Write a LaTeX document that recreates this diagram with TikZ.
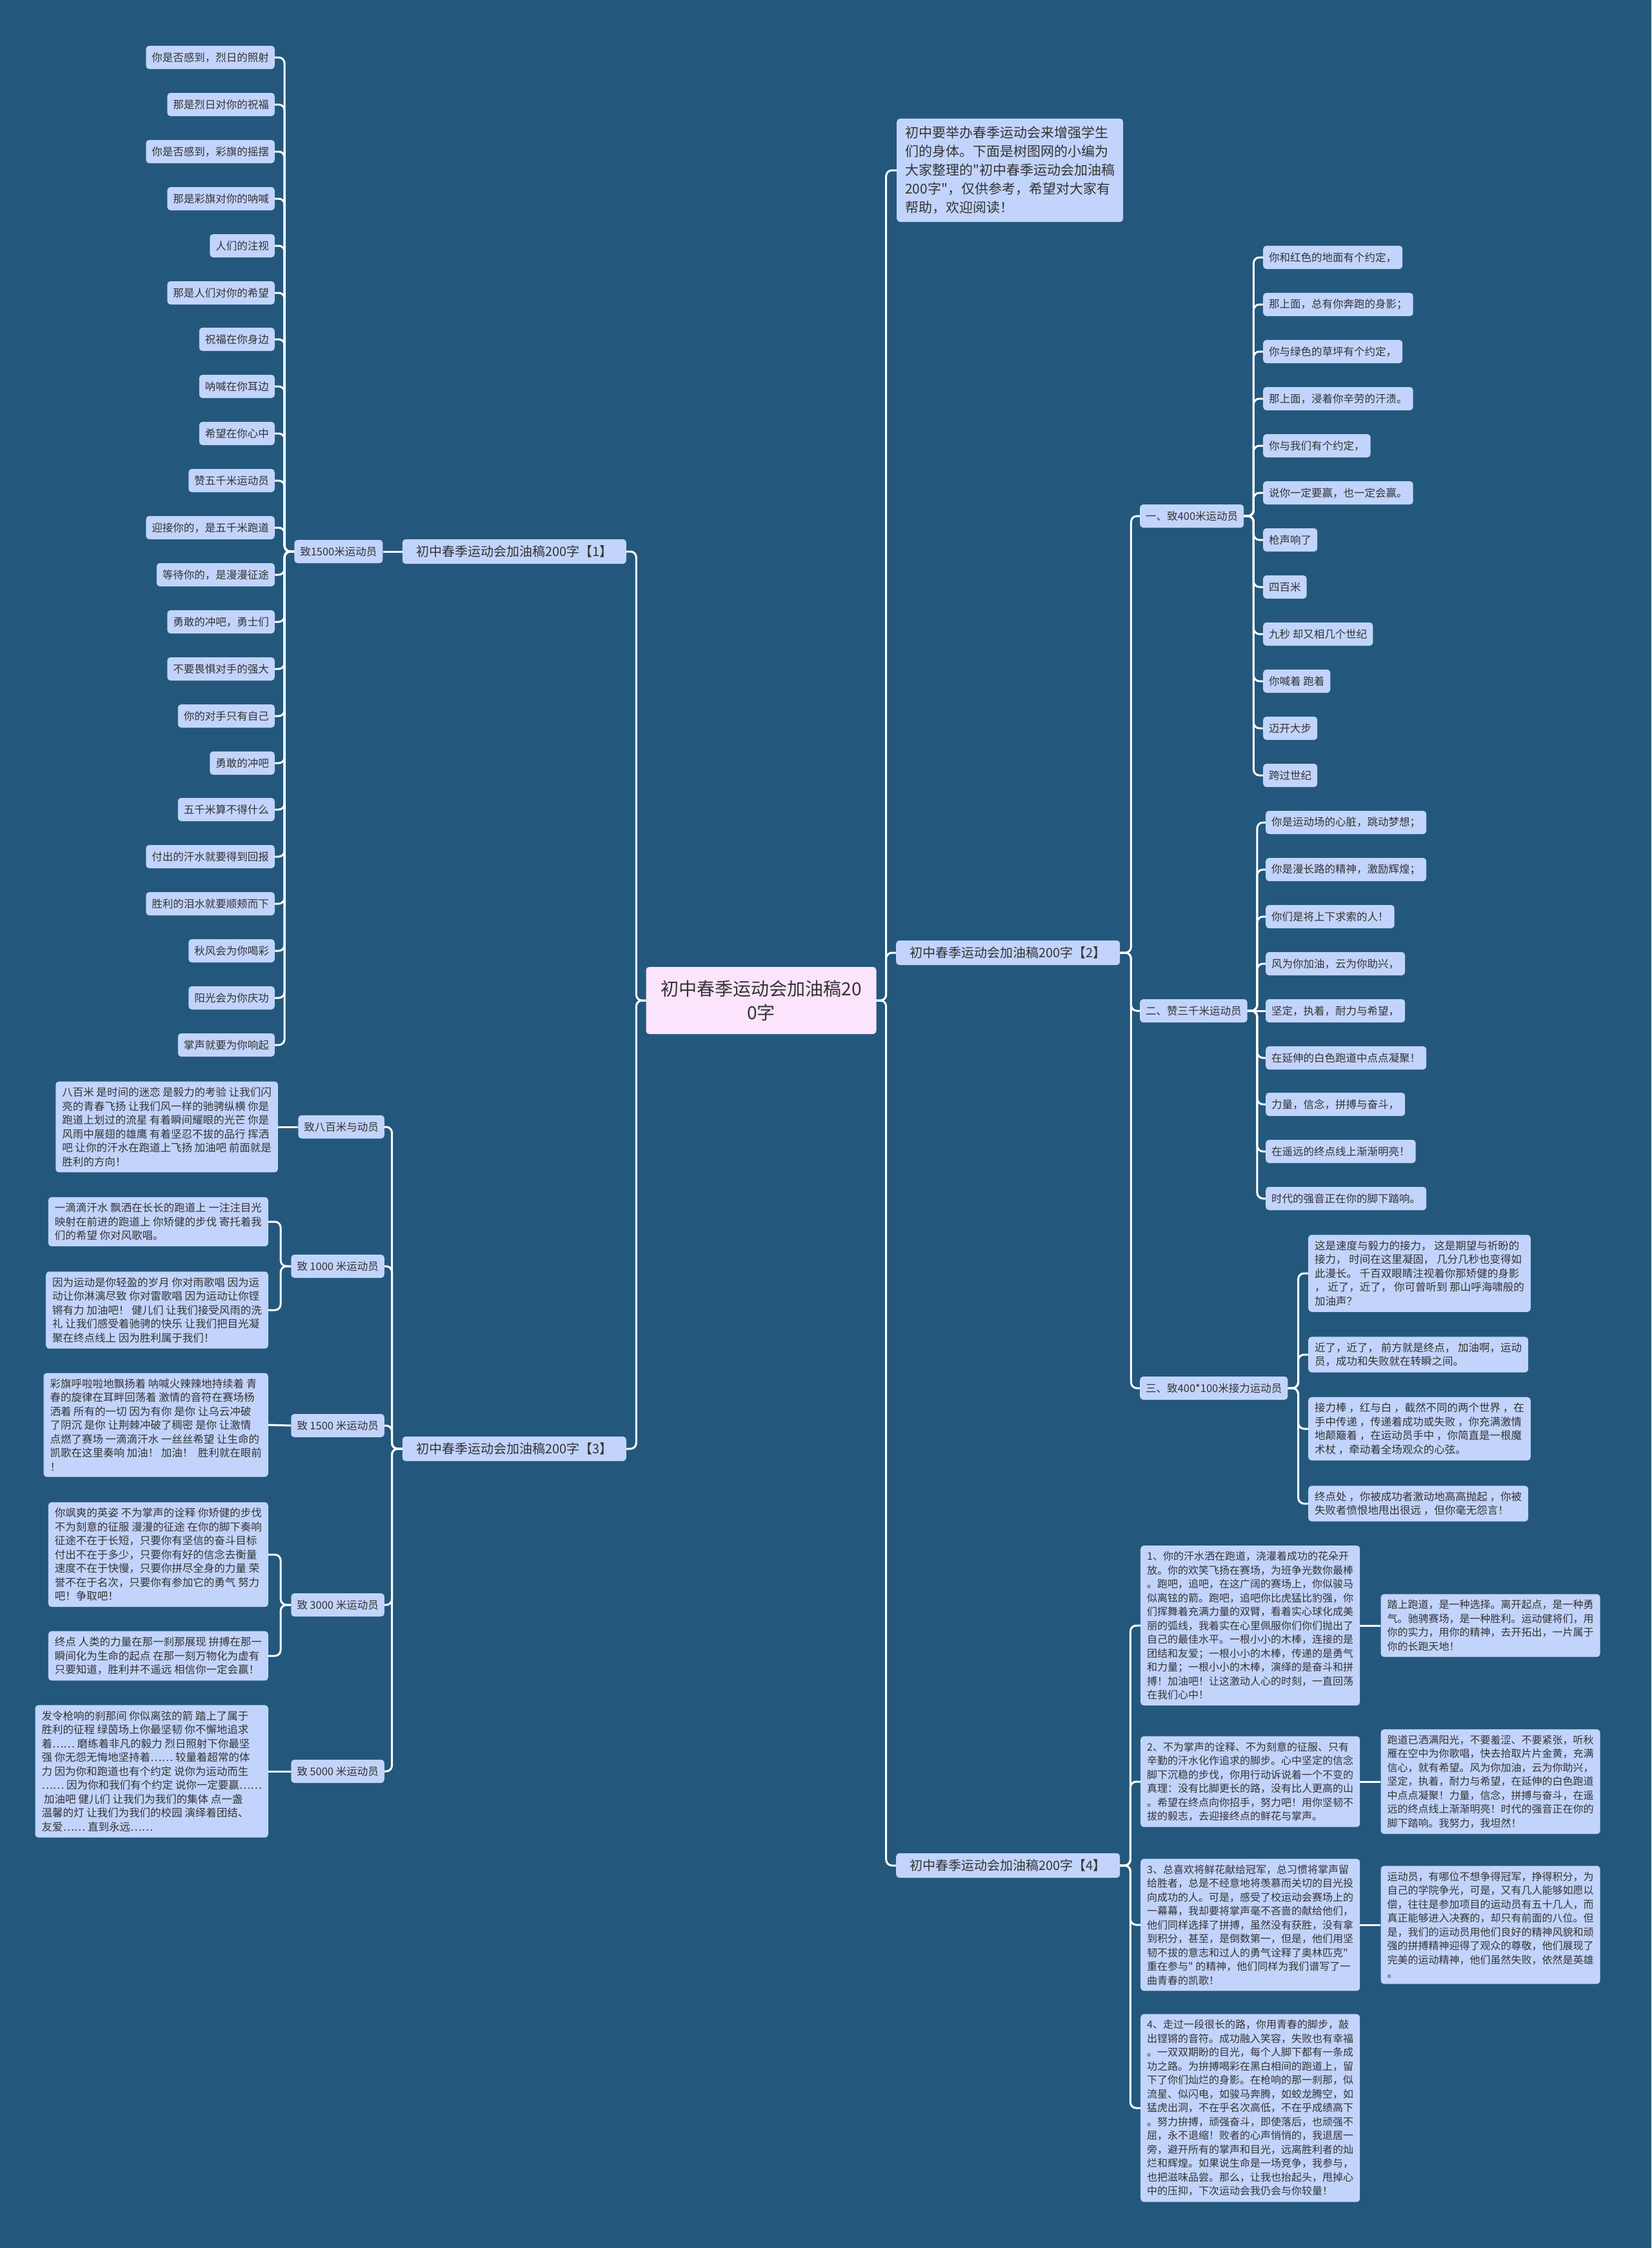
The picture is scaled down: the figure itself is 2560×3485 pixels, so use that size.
\documentclass[tikz,border=0pt]{standalone}
\usepackage{fontspec}
\setmainfont{Noto Sans CJK SC}[Ligatures=TeXOff]
\usetikzlibrary{positioning}
\definecolor{bgblue}{RGB}{35,88,124}
\definecolor{boxblue}{RGB}{194,212,251}
\definecolor{rootpink}{RGB}{253,228,253}
\definecolor{ink}{RGB}{51,51,51}

\begin{document}
\begin{tikzpicture}[
        x=1pt, y=-1pt,
        every node/.style={text=ink, fill=boxblue, rounded corners=5pt},
        leaf/.style={font=\fontsize{16.5}{21.5}\selectfont, inner xsep=9pt, inner ysep=0pt, minimum height=36pt},
        para/.style={font=\fontsize{16.5}{21.5}\selectfont, align=left, inner xsep=10pt, inner ysep=9pt},
        tight/.style={para, font=\fontsize{16}{21.5}\selectfont},
        part/.style={font=\fontsize{20}{24}\selectfont, minimum width=347pt, minimum height=38pt, inner ysep=0pt},
        link/.style={draw=white, line width=3pt, rounded corners=9pt}
    ]
    \useasboundingbox (0,0) rectangle (2560,3485);
    \fill[bgblue] (0,0) rectangle (2560,3485);

    \node[fill=rootpink, font=\fontsize{28}{37}\selectfont, align=center, minimum width=357pt, minimum height=104pt] (root) at (1180,1551) {初中春季运动会加油稿20\\0字};

    \node[part, anchor=east] (part1) at (971,855) {初中春季运动会加油稿200字【1】};
    \node[part, anchor=east] (part3) at (971,2246) {初中春季运动会加油稿200字【3】};
    \node[part, anchor=west] (part2) at (1389,1477) {初中春季运动会加油稿200字【2】};
    \node[part, anchor=west] (part4) at (1389,2892) {初中春季运动会加油稿200字【4】};
    \node[para, anchor=west, font=\fontsize{21}{29}\selectfont, inner xsep=12pt, inner ysep=12pt, minimum width=351pt] (intro) at (1390,264) {初中要举办春季运动会来增强学生\\们的身体。下面是树图网的小编为\\大家整理的"初中春季运动会加油稿\\200字"，仅供参考，希望对大家有\\帮助，欢迎阅读！};

    \node[leaf, left=30pt of part1] (run1500) {致1500米运动员};
    \node[leaf, anchor=east] (l1) at (426,89) {你是否感到，烈日的照射};
    \node[leaf, anchor=east] (l2) at (426,162) {那是烈日对你的祝福};
    \node[leaf, anchor=east] (l3) at (426,235) {你是否感到，彩旗的摇摆};
    \node[leaf, anchor=east] (l4) at (426,308) {那是彩旗对你的呐喊};
    \node[leaf, anchor=east] (l5) at (426,381) {人们的注视};
    \node[leaf, anchor=east] (l6) at (426,454) {那是人们对你的希望};
    \node[leaf, anchor=east] (l7) at (426,526) {祝福在你身边};
    \node[leaf, anchor=east] (l8) at (426,599) {呐喊在你耳边};
    \node[leaf, anchor=east] (l9) at (426,672) {希望在你心中};
    \node[leaf, anchor=east] (l10) at (426,745) {赞五千米运动员};
    \node[leaf, anchor=east] (l11) at (426,818) {迎接你的，是五千米跑道};
    \node[leaf, anchor=east] (l12) at (426,891) {等待你的，是漫漫征途};
    \node[leaf, anchor=east] (l13) at (426,964) {勇敢的冲吧，勇士们};
    \node[leaf, anchor=east] (l14) at (426,1037) {不要畏惧对手的强大};
    \node[leaf, anchor=east] (l15) at (426,1110) {你的对手只有自己};
    \node[leaf, anchor=east] (l16) at (426,1183) {勇敢的冲吧};
    \node[leaf, anchor=east] (l17) at (426,1255) {五千米算不得什么};
    \node[leaf, anchor=east] (l18) at (426,1328) {付出的汗水就要得到回报};
    \node[leaf, anchor=east] (l19) at (426,1401) {胜利的泪水就要顺颊而下};
    \node[leaf, anchor=east] (l20) at (426,1474) {秋风会为你喝彩};
    \node[leaf, anchor=east] (l21) at (426,1547) {阳光会为你庆功};
    \node[leaf, anchor=east] (l22) at (426,1620) {掌声就要为你响起};

    \node[leaf, anchor=east] (a800) at (596,1747) {致八百米与动员};
    \node[leaf, anchor=east] (a1000) at (596,1963) {致 1000 米运动员};
    \node[leaf, anchor=east] (a1500) at (596,2210) {致 1500 米运动员};
    \node[leaf, anchor=east] (a3000) at (596,2488) {致 3000 米运动员};
    \node[leaf, anchor=east] (a5000) at (596,2746) {致 5000 米运动员};

    \node[para, left=31pt of a800] (p800) {八百米 是时间的迷恋 是毅力的考验 让我们闪\\亮的青春飞扬 让我们风一样的驰骋纵横 你是\\跑道上划过的流星 有着瞬间耀眼的光芒 你是\\风雨中展翅的雄鹰 有着坚忍不拔的品行 挥洒\\吧 让你的汗水在跑道上飞扬 加油吧 前面就是\\胜利的方向！};
    \node[para, anchor=east] (p1000a) at (416,1894) {一滴滴汗水 飘洒在长长的跑道上 一注注目光\\映射在前进的跑道上 你矫健的步伐 寄托着我\\们的希望 你对风歌唱。};
    \node[para, anchor=east] (p1000b) at (416,2031) {因为运动是你轻盈的岁月 你对雨歌唱 因为运\\动让你淋漓尽致 你对雷歌唱 因为运动让你铿\\锵有力 加油吧！ 健儿们 让我们接受风雨的洗\\礼 让我们感受着驰骋的快乐 让我们把目光凝\\聚在终点线上 因为胜利属于我们！};
    \node[para, anchor=east] (p1500) at (416,2209) {彩旗呼啦啦地飘扬着 呐喊火辣辣地持续着 青\\春的旋律在耳畔回荡着 激情的音符在赛场杨\\洒着 所有的一切 因为有你 是你 让乌云冲破\\了阴沉 是你 让荆棘冲破了稠密 是你 让激情\\点燃了赛场 一滴滴汗水 一丝丝希望 让生命的\\凯歌在这里奏响 加油！ 加油！ \ 胜利就在眼前\\！};
    \node[para, anchor=east] (p3000a) at (416,2410) {你飒爽的英姿 不为掌声的诠释 你矫健的步伐\\不为刻意的征服 漫漫的征途 在你的脚下奏响\\征途不在于长短，只要你有坚信的奋斗目标\\付出不在于多少，只要你有好的信念去衡量\\速度不在于快慢，只要你拼尽全身的力量 荣\\誉不在于名次，只要你有参加它的勇气 努力\\吧！争取吧！};
    \node[para, anchor=east] (p3000b) at (416,2567) {终点 人类的力量在那一刹那展现 拚搏在那一\\瞬间化为生命的起点 在那一刻万物化为虚有\\只要知道，胜利并不遥远 相信你一定会赢！};
    \node[para, anchor=east] (p5000) at (416,2746) {发令枪响的刹那间 你似离弦的箭 踏上了属于\\胜利的征程 绿茵场上你最坚韧 你不懈地追求\\着…… 磨练着非凡的毅力 烈日照射下你最坚\\强 你无怨无悔地坚持着…… 较量着超常的体\\力 因为你和跑道也有个约定 说你为运动而生\\…… 因为你和我们有个约定 说你一定要赢……\\\ 加油吧 健儿们 让我们为我们的集体 点一盏\\温馨的灯 让我们为我们的校园 演绎着团结、\\友爱…… 直到永远……};

    \node[leaf, anchor=west] (r400) at (1767,800) {一、致400米运动员};
    \node[leaf, anchor=west] (r3000) at (1767,1567) {二、赞三千米运动员};
    \node[leaf, anchor=west] (relay) at (1767,2152) {三、致400*100米接力运动员};

    \node[leaf, anchor=west] (m1) at (1958,399) {你和红色的地面有个约定，};
    \node[leaf, anchor=west] (m2) at (1958,472) {那上面，总有你奔跑的身影；};
    \node[leaf, anchor=west] (m3) at (1958,545) {你与绿色的草坪有个约定，};
    \node[leaf, anchor=west] (m4) at (1958,618) {那上面，浸着你辛劳的汗渍。};
    \node[leaf, anchor=west] (m5) at (1958,691) {你与我们有个约定，};
    \node[leaf, anchor=west] (m6) at (1958,764) {说你一定要赢，也一定会赢。};
    \node[leaf, anchor=west] (m7) at (1958,837) {枪声响了};
    \node[leaf, anchor=west] (m8) at (1958,910) {四百米};
    \node[leaf, anchor=west] (m9) at (1958,983) {九秒 却又相几个世纪};
    \node[leaf, anchor=west] (m10) at (1958,1056) {你喊着 跑着};
    \node[leaf, anchor=west] (m11) at (1958,1129) {迈开大步};
    \node[leaf, anchor=west] (m12) at (1958,1202) {跨过世纪};

    \node[leaf, anchor=west] (k1) at (1962,1275) {你是运动场的心脏，跳动梦想；};
    \node[leaf, anchor=west] (k2) at (1962,1348) {你是漫长路的精神，激励辉煌；};
    \node[leaf, anchor=west] (k3) at (1962,1421) {你们是将上下求索的人！};
    \node[leaf, anchor=west] (k4) at (1962,1494) {风为你加油，云为你助兴，};
    \node[leaf, anchor=west] (k5) at (1962,1567) {坚定，执着，耐力与希望，};
    \node[leaf, anchor=west] (k6) at (1962,1640) {在延伸的白色跑道中点点凝聚！};
    \node[leaf, anchor=west] (k7) at (1962,1712) {力量，信念，拼搏与奋斗，};
    \node[leaf, anchor=west] (k8) at (1962,1785) {在遥远的终点线上渐渐明亮！};
    \node[leaf, anchor=west] (k9) at (1962,1858) {时代的强音正在你的脚下踏响。};

    \node[para, anchor=west] (j1) at (2028,1974) {这是速度与毅力的接力， 这是期望与祈盼的\\接力， 时间在这里凝固， 几分几秒也变得如\\此漫长。 千百双眼睛注视着你那矫健的身影\\， 近了，近了， 你可曾听到 那山呼海啸般的\\加油声？};
    \node[para, anchor=west] (j2) at (2028,2100) {近了，近了， 前方就是终点， 加油啊，运动\\员，成功和失败就在转瞬之间。};
    \node[para, anchor=west] (j3) at (2028,2215) {接力棒 ，红与白 ，截然不同的两个世界 ，在\\手中传递 ，传递着成功或失败 ，你充满激情\\地颠簸着 ，在运动员手中 ，你简直是一根魔\\术杖 ，牵动着全场观众的心弦。};
    \node[para, anchor=west] (j4) at (2028,2331) {终点处 ，你被成功者激动地高高抛起 ，你被\\失败者愤恨地甩出很远 ，但你毫无怨言！};

    \node[tight, anchor=west] (f1) at (1768,2520) {1、你的汗水洒在跑道，浇灌着成功的花朵开\\放。你的欢笑飞扬在赛场，为班争光数你最棒\\。跑吧，追吧，在这广阔的赛场上，你似骏马\\似离铉的箭。跑吧，追吧你比虎猛比豹强，你\\们挥舞着充满力量的双臂，看着实心球化成美\\丽的弧线，我着实在心里佩服你们你们抛出了\\自己的最佳水平。一根小小的木棒，连接的是\\团结和友爱；一根小小的木棒，传递的是勇气\\和力量；一根小小的木棒，演绎的是奋斗和拼\\搏！加油吧！让这激动人心的时刻，一直回荡\\在我们心中！};
    \node[tight, right=32pt of f1] (g1) {踏上跑道，是一种选择。离开起点，是一种勇\\气。驰骋赛场，是一种胜利。运动健将们，用\\你的实力，用你的精神，去开拓出，一片属于\\你的长跑天地！};
    \node[tight, anchor=west] (f2) at (1768,2762) {2、不为掌声的诠释、不为刻意的征服、只有\\辛勤的汗水化作追求的脚步。心中坚定的信念\\脚下沉稳的步伐，你用行动诉说着一个不变的\\真理：没有比脚更长的路，没有比人更高的山\\。希望在终点向你招手，努力吧！用你坚韧不\\拔的毅志，去迎接终点的鲜花与掌声。};
    \node[tight, right=32pt of f2] (g2) {跑道已洒满阳光，不要羞涩、不要紧张，听秋\\雁在空中为你歌唱，快去拾取片片金黄，充满\\信心，就有希望。风为你加油，云为你助兴，\\坚定，执着，耐力与希望，在延伸的白色跑道\\中点点凝聚！力量，信念，拼搏与奋斗，在遥\\远的终点线上渐渐明亮！时代的强音正在你的\\脚下踏响。我努力，我坦然！};
    \node[tight, anchor=west] (f3) at (1768,2984) {3、总喜欢将鲜花献给冠军，总习惯将掌声留\\给胜者，总是不经意地将羡慕而关切的目光投\\向成功的人。可是，感受了校运动会赛场上的\\一幕幕，我却要将掌声毫不吝啬的献给他们，\\他们同样选择了拼搏，虽然没有获胜，没有拿\\到积分，甚至，是倒数第一，但是，他们用坚\\韧不拔的意志和过人的勇气诠释了奥林匹克"\\重在参与" 的精神，他们同样为我们谱写了一\\曲青春的凯歌！};
    \node[tight, right=32pt of f3] (g3) {运动员，有哪位不想争得冠军，挣得积分，为\\自己的学院争光，可是，又有几人能够如愿以\\偿，往往是参加项目的运动员有五十几人，而\\真正能够进入决赛的，却只有前面的八位。但\\是，我们的运动员用他们良好的精神风貌和顽\\强的拼搏精神迎得了观众的尊敬，他们展现了\\完美的运动精神，他们虽然失败，依然是英雄\\。};
    \node[tight, anchor=west] (f4) at (1768,3268) {4、走过一段很长的路，你用青春的脚步，敲\\出铿锵的音符。成功融入笑容，失败也有幸福\\。一双双期盼的目光，每个人脚下都有一条成\\功之路。为拚搏喝彩在黑白相间的跑道上，留\\下了你们灿烂的身影。在枪响的那一刹那，似\\流星、似闪电，如骏马奔腾，如蛟龙腾空，如\\猛虎出洞，不在乎名次高低，不在乎成绩高下\\。努力拚搏，顽强奋斗，即使落后，也顽强不\\屈，永不退缩！败者的心声悄悄的，我退居一\\旁，避开所有的掌声和目光，远离胜利者的灿\\烂和辉煌。如果说生命是一场竞争，我参与，\\也把滋味品尝。那么，让我也抬起头，甩掉心\\中的压抑，下次运动会我仍会与你较量！};

    \draw[link] (root.west) -- ++(-15,0) |- (part1.east);
    \draw[link] (root.west) -- ++(-15,0) |- (part3.east);
    \draw[link] (root.east) -- ++(15,0) |- (intro.west);
    \draw[link] (root.east) -- ++(15,0) |- (part2.west);
    \draw[link] (root.east) -- ++(15,0) |- (part4.west);

    \draw[link] (part1.west) -- (run1500.east);
    \draw[link] (run1500.west) -- ++(-15,0) |- (l1.east);
    \draw[link] (run1500.west) -- ++(-15,0) |- (l2.east);
    \draw[link] (run1500.west) -- ++(-15,0) |- (l3.east);
    \draw[link] (run1500.west) -- ++(-15,0) |- (l4.east);
    \draw[link] (run1500.west) -- ++(-15,0) |- (l5.east);
    \draw[link] (run1500.west) -- ++(-15,0) |- (l6.east);
    \draw[link] (run1500.west) -- ++(-15,0) |- (l7.east);
    \draw[link] (run1500.west) -- ++(-15,0) |- (l8.east);
    \draw[link] (run1500.west) -- ++(-15,0) |- (l9.east);
    \draw[link] (run1500.west) -- ++(-15,0) |- (l10.east);
    \draw[link] (run1500.west) -- ++(-15,0) |- (l11.east);
    \draw[link] (run1500.west) -- ++(-15,0) |- (l12.east);
    \draw[link] (run1500.west) -- ++(-15,0) |- (l13.east);
    \draw[link] (run1500.west) -- ++(-15,0) |- (l14.east);
    \draw[link] (run1500.west) -- ++(-15,0) |- (l15.east);
    \draw[link] (run1500.west) -- ++(-15,0) |- (l16.east);
    \draw[link] (run1500.west) -- ++(-15,0) |- (l17.east);
    \draw[link] (run1500.west) -- ++(-15,0) |- (l18.east);
    \draw[link] (run1500.west) -- ++(-15,0) |- (l19.east);
    \draw[link] (run1500.west) -- ++(-15,0) |- (l20.east);
    \draw[link] (run1500.west) -- ++(-15,0) |- (l21.east);
    \draw[link] (run1500.west) -- ++(-15,0) |- (l22.east);

    \draw[link] (part3.west) -- ++(-16,0) |- (a800.east);
    \draw[link] (part3.west) -- ++(-16,0) |- (a1000.east);
    \draw[link] (part3.west) -- ++(-16,0) |- (a1500.east);
    \draw[link] (part3.west) -- ++(-16,0) |- (a3000.east);
    \draw[link] (part3.west) -- ++(-16,0) |- (a5000.east);
    \draw[link] (a800.west) -- (p800.east);
    \draw[link] (a1000.west) -- ++(-16,0) |- (p1000a.east);
    \draw[link] (a1000.west) -- ++(-16,0) |- (p1000b.east);
    \draw[link] (a1500.west) -- (p1500.east);
    \draw[link] (a3000.west) -- ++(-16,0) |- (p3000a.east);
    \draw[link] (a3000.west) -- ++(-16,0) |- (p3000b.east);
    \draw[link] (a5000.west) -- (p5000.east);

    \draw[link] (part2.east) -- ++(17,0) |- (r400.west);
    \draw[link] (part2.east) -- ++(17,0) |- (r3000.west);
    \draw[link] (part2.east) -- ++(17,0) |- (relay.west);
    \draw[link] (r400.east) -- ++(15,0) |- (m1.west);
    \draw[link] (r400.east) -- ++(15,0) |- (m2.west);
    \draw[link] (r400.east) -- ++(15,0) |- (m3.west);
    \draw[link] (r400.east) -- ++(15,0) |- (m4.west);
    \draw[link] (r400.east) -- ++(15,0) |- (m5.west);
    \draw[link] (r400.east) -- ++(15,0) |- (m6.west);
    \draw[link] (r400.east) -- ++(15,0) |- (m7.west);
    \draw[link] (r400.east) -- ++(15,0) |- (m8.west);
    \draw[link] (r400.east) -- ++(15,0) |- (m9.west);
    \draw[link] (r400.east) -- ++(15,0) |- (m10.west);
    \draw[link] (r400.east) -- ++(15,0) |- (m11.west);
    \draw[link] (r400.east) -- ++(15,0) |- (m12.west);
    \draw[link] (r3000.east) -- ++(15,0) |- (k1.west);
    \draw[link] (r3000.east) -- ++(15,0) |- (k2.west);
    \draw[link] (r3000.east) -- ++(15,0) |- (k3.west);
    \draw[link] (r3000.east) -- ++(15,0) |- (k4.west);
    \draw[link] (r3000.east) -- (k5.west);
    \draw[link] (r3000.east) -- ++(15,0) |- (k6.west);
    \draw[link] (r3000.east) -- ++(15,0) |- (k7.west);
    \draw[link] (r3000.east) -- ++(15,0) |- (k8.west);
    \draw[link] (r3000.east) -- ++(15,0) |- (k9.west);
    \draw[link] (relay.east) -- ++(16,0) |- (j1.west);
    \draw[link] (relay.east) -- ++(16,0) |- (j2.west);
    \draw[link] (relay.east) -- ++(16,0) |- (j3.west);
    \draw[link] (relay.east) -- ++(16,0) |- (j4.west);

    \draw[link] (part4.east) -- ++(16,0) |- (f1.west);
    \draw[link] (part4.east) -- ++(16,0) |- (f2.west);
    \draw[link] (part4.east) -- ++(16,0) |- (f3.west);
    \draw[link] (part4.east) -- ++(16,0) |- (f4.west);
    \draw[link] (f1.east) -- (g1.west);
    \draw[link] (f2.east) -- (g2.west);
    \draw[link] (f3.east) -- (g3.west);
\end{tikzpicture}
\end{document}
